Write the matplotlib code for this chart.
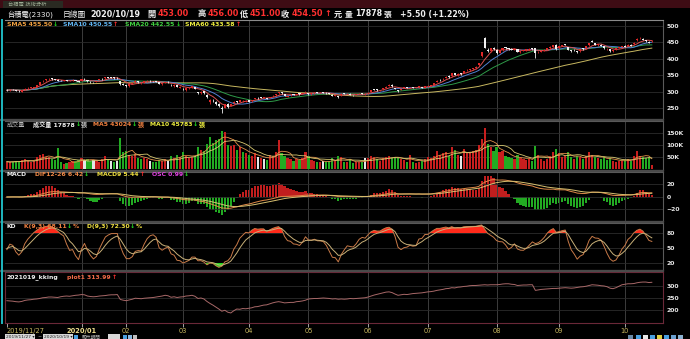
import numpy as np
import pandas as pd
import matplotlib
matplotlib.use("Agg")
import matplotlib.pyplot as plt
from matplotlib.patches import Rectangle
from matplotlib.lines import Line2D

FAM = ['DejaVu Sans', 'Noto Sans CJK TC']
plt.rcParams['font.family'] = FAM

# ---------------- data ----------------
open_ = ([306, 305, 307] +
         [306, 303, 301, 306, 311, 313, 312, 316, 322, 333, 336, 339, 341, 338, 337, 334, 334, 335, 333, 336, 336, 332] +
         [333, 340, 336, 331, 330, 331, 336, 340, 341, 345, 344, 344, 343, 333, 325] +
         [320, 318, 325, 329, 333, 327, 328, 333, 334, 333, 332, 329, 324, 328, 331, 322, 318, 320, 313] +
         [310, 306, 311, 313, 314, 300, 298, 302, 292, 270, 273, 270, 262, 252, 252, 264, 258, 266, 273, 270, 272, 271] +
         [276, 272, 280, 282, 284, 283, 281, 283, 287, 290, 296, 299, 294, 286, 290, 293, 292, 296, 294, 299] +
         [296, 293, 297, 300, 297, 299, 298, 296, 292, 289, 288, 290, 296, 294, 295, 291, 291, 294, 296, 294] +
         [296, 300, 308, 308, 305, 308, 312, 318, 322, 312, 305, 306, 313, 315, 314, 314, 312, 314, 314, 313] +
         [317, 319, 322, 330, 337, 338, 342, 348, 347, 357, 350, 356, 357, 365, 367, 369, 372, 382, 408, 463, 428, 424, 434] +
         [428, 419, 427, 435, 433, 431, 427, 429, 420, 425, 425, 428, 432, 432, 420, 421, 425, 427, 432, 437, 442] +
         [432, 440, 445, 436, 426, 428, 424, 424, 433, 432, 441, 455, 448, 442, 443, 438, 430, 429, 423, 428, 434, 437] +
         [440, 440, 443, 444, 456, 462, 461, 457, 452, 453])
high = ([308, 308, 309] +
        [307, 305, 306, 311, 314, 315, 316, 321, 331, 336, 339, 342, 342, 339, 338, 336, 336, 336, 335, 338, 337, 334] +
        [340, 341, 337, 332, 331, 334, 339, 341, 346, 346, 345, 345, 345, 334, 327] +
        [321, 324, 329, 335, 334, 329, 333, 335, 336, 334, 333, 330, 328, 331, 333, 323, 323, 321, 318] +
        [312, 313, 315, 318, 315, 301, 302, 303, 293, 279, 279, 272, 265, 256, 263, 265, 263, 272, 274, 277, 275, 276] +
        [277, 277, 282, 284, 285, 285, 282, 286, 290, 294, 300, 301, 295, 290, 293, 294, 295, 297, 298, 302] +
        [297, 297, 299, 301, 299, 300, 299, 297, 293, 292, 289, 296, 297, 296, 296, 292, 294, 296, 297, 296] +
        [299, 306, 309, 309, 307, 312, 317, 324, 323, 313, 306, 310, 315, 316, 316, 315, 314, 318, 315, 318] +
        [320, 322, 328, 335, 339, 342, 348, 350, 357, 358, 356, 358, 364, 368, 370, 374, 378, 389, 422, 466, 432, 434, 436] +
        [430, 427, 434, 437, 434, 432, 432, 430, 425, 427, 430, 432, 433, 433, 423, 426, 429, 433, 438, 443, 444] +
        [439, 443, 446, 437, 428, 430, 425, 432, 434, 440, 449, 456, 449, 446, 444, 439, 433, 430, 427, 433, 437, 440] +
        [441, 444, 444, 450, 462, 466, 462, 458, 453, 456])
low = ([303, 304, 305] +
       [303, 300, 300, 305, 309, 311, 311, 315, 321, 330, 334, 337, 337, 335, 332, 332, 333, 332, 332, 334, 332, 330] +
       [332, 337, 331, 327, 327, 330, 335, 337, 340, 341, 341, 340, 340, 322, 320] +
       [314, 316, 323, 327, 328, 325, 327, 331, 331, 330, 329, 324, 322, 326, 328, 318, 316, 314, 311] +
       [305, 304, 309, 312, 308, 293, 295, 295, 282, 262, 270, 261, 253, 235.5, 250, 252, 256, 264, 266, 268, 268, 270] +
       [270, 271, 278, 279, 281, 281, 278, 282, 286, 289, 295, 295, 287, 285, 288, 290, 291, 292, 293, 298] +
       [292, 292, 295, 296, 296, 297, 295, 293, 288, 287, 283, 289, 293, 293, 290, 288, 290, 293, 293, 292] +
       [295, 299, 305, 304, 304, 307, 311, 317, 316, 308, 300, 305, 311, 312, 312, 311, 311, 313, 312, 312] +
       [315, 318, 321, 329, 333, 336, 341, 343, 346, 350, 349, 352, 356, 362, 364, 367, 370, 380, 405, 432, 420, 422, 427] +
       [415, 417, 425, 430, 428, 426, 426, 420, 418, 423, 424, 427, 428, 402, 418, 420, 424, 426, 431, 436, 428] +
       [430, 438, 441, 427, 422, 424, 418, 422, 428, 431, 440, 450, 441, 440, 438, 431, 428, 421, 421, 427, 432, 435] +
       [435, 438, 439, 443, 455, 459, 456, 451, 447, 451])
close = ([305, 307, 306] +
         [304, 302, 305, 310, 312, 313, 315, 320, 330, 334, 338, 340, 339, 336, 334, 333, 335, 333, 334, 337, 333, 331] +
         [339, 339, 332, 329, 329, 333, 338, 339, 345, 343, 343, 342, 342, 323, 322] +
         [317, 323, 327, 334, 329, 327, 332, 333, 333, 332, 331, 325, 327, 330, 330, 320, 322, 315, 316] +
         [308, 312, 313, 317, 310, 296, 300, 297, 284, 277, 272, 264, 256, 248, 262, 255, 262, 270, 268, 275, 272, 274] +
         [271, 276, 281, 281, 283, 283, 280, 285, 289, 293, 299, 296, 288, 289, 292, 291, 294, 293, 297, 301] +
         [294, 296, 298, 297, 298, 298, 296, 294, 289, 291, 284, 295, 294, 295, 291, 290, 293, 295, 294, 294] +
         [298, 305, 307, 305, 306, 311, 316, 322, 318, 310, 302, 309, 314, 313, 315, 312, 313, 317, 313, 317] +
         [318, 321, 327, 334, 336, 340, 346, 345, 356, 352, 355, 355, 363, 366, 368, 372, 376, 388, 421, 433, 425, 432, 429] +
         [418, 426, 433, 432, 430, 428, 431, 421, 424, 426, 429, 431, 430, 418, 422, 425, 428, 432, 437, 441, 430] +
         [438, 441, 443, 428, 425, 427, 420, 431, 430, 439, 448, 452, 442, 444, 440, 432, 431, 423, 426, 432, 436.5, 439] +
         [437, 442, 440, 449, 460, 463, 458, 453, 449, 454.5])
volume = ([30500, 28200, 31000] +
          [33000, 30000, 38000, 42000, 35000, 30000, 34000, 51000, 58000, 62000, 48000, 52000, 40000, 38000, 87000, 30000, 22000, 25000, 28000, 35000, 32000, 36000] +
          [45000, 38000, 40000, 35000, 37000, 35000, 30000, 40000, 55000, 38000, 35000, 30000, 35000, 129000, 70000] +
          [75000, 60000, 55000, 62000, 45000, 40000, 45000, 40000, 35000, 30000, 30000, 38000, 35000, 40000, 32000, 55000, 45000, 58000, 50000] +
          [70000, 55000, 45000, 50000, 55000, 90000, 80000, 75000, 105000, 133000, 110000, 120000, 125000, 158000, 154000, 100000, 95000, 100000, 80000, 90000, 70000, 65000] +
          [60000, 55000, 65000, 50000, 45000, 40000, 38000, 60000, 55000, 70000, 120000, 65000, 55000, 45000, 40000, 35000, 40000, 38000, 45000, 70000] +
          [55000, 38000, 35000, 30000, 28000, 32000, 30000, 35000, 45000, 35000, 55000, 50000, 30000, 28000, 40000, 25000, 28000, 30000, 30000, 45000] +
          [45000, 55000, 50000, 40000, 35000, 45000, 50000, 55000, 45000, 50000, 45000, 40000, 38000, 30000, 60000, 28000, 25000, 30000, 32000, 40000] +
          [50000, 45000, 55000, 75000, 60000, 65000, 70000, 55000, 90000, 80000, 60000, 55000, 85000, 65000, 70000, 75000, 80000, 100000, 125000, 172000, 105000, 90000, 75000] +
          [90000, 70000, 75000, 55000, 50000, 45000, 40000, 60000, 45000, 40000, 38000, 40000, 35000, 95000, 60000, 40000, 35000, 40000, 55000, 70000, 85000] +
          [65000, 50000, 55000, 70000, 50000, 40000, 55000, 50000, 40000, 55000, 70000, 60000, 50000, 45000, 40000, 50000, 38000, 45000, 35000, 30000, 35000, 32000] +
          [38000, 42000, 33000, 55000, 74710, 55200, 48100, 45800, 48142, 17878])
plot1 = ([239, 238, 237] +
         [235, 234, 236, 240, 242, 243, 245, 246, 248, 251, 252, 254, 254, 253, 252, 255, 257, 258, 257, 259, 261, 262] +
         [264, 263, 258, 256, 255, 256, 258, 259, 260, 262, 263, 263, 264, 244, 241] +
         [239, 242, 245, 249, 248, 247, 249, 250, 251, 252, 254, 256, 258, 261, 259, 253, 255, 252, 254] +
         [255, 258, 259, 261, 257, 248, 250, 246, 236, 228, 221, 213, 205, 196, 200, 192, 189, 198, 205, 204, 207, 206] +
         [208, 210, 214, 215, 218, 221, 222, 226, 230, 233, 235, 233, 230, 231, 232, 232, 235, 236, 238, 241] +
         [246, 247, 248, 248, 249, 250, 249, 248, 246, 247, 245, 246, 245, 246, 248, 247, 248, 249, 250, 251] +
         [254, 258, 262, 265, 268, 271, 274, 275, 272, 266, 261, 263, 265, 264, 266, 268, 269, 270, 271, 273] +
         [275, 276, 278, 281, 283, 285, 288, 289, 292, 291, 294, 295, 297, 298, 300, 301, 301, 302, 303, 304, 303, 304, 304] +
         [304, 305, 307, 308, 308, 306, 305, 301, 302, 303, 303, 304, 304, 281, 283, 285, 286, 287, 288, 289, 289] +
         [290, 291, 292, 291, 290, 291, 293, 295, 296, 298, 301, 304, 303, 302, 300, 299, 296, 290, 288, 292, 298, 304] +
         [306, 308, 308, 309, 312, 314, 315, 315, 313, 313.99])

holidays = ['2020-01-01', '2020-01-21', '2020-01-22', '2020-01-23', '2020-01-24', '2020-01-27',
            '2020-01-28', '2020-01-29', '2020-02-28', '2020-04-02', '2020-04-03', '2020-05-01',
            '2020-06-25', '2020-06-26', '2020-10-01', '2020-10-02', '2020-10-09']
month_labels = ['2019/11/27', '2020/01', '02', '03', '04', '05', '06', '07', '08', '09', '10']

price_ticks = [250, 300, 350, 400, 450, 500]
vol_ticks = [50000, 100000, 150000]
vol_tick_labels = ['50K', '100K', '150K']
macd_ticks = [-20, 0, 20]
kd_ticks = [20, 50, 80]
p1_ticks = [200, 250, 300]

# ---------------- derived series ----------------
dates = pd.bdate_range('2019-11-27', '2020-10-19', freq='C', holidays=holidays)
n = len(dates)
for arr in (open_, high, low, close, volume, plot1):
    assert len(arr) == n, (len(arr), n)
O = np.array(open_, float); Hh = np.array(high, float); Ll = np.array(low, float)
C = np.array(close, float); V = np.array(volume, float); P1 = np.array(plot1, float)
x = np.arange(n)
cs = pd.Series(C)
sma = {k: cs.rolling(k, min_periods=1).mean().values for k in (5, 10, 20, 60)}
vs = pd.Series(V)
vma5 = vs.rolling(5, min_periods=1).mean().values
vma10 = vs.rolling(10, min_periods=1).mean().values
ema12 = cs.ewm(span=12, adjust=False).mean()
ema26 = cs.ewm(span=26, adjust=False).mean()
dif = (ema12 - ema26).values
dea = pd.Series(dif).ewm(span=9, adjust=False).mean().values
osc = dif - dea
h9 = pd.Series(Hh).rolling(9, min_periods=1).max().values
l9 = pd.Series(Ll).rolling(9, min_periods=1).min().values
rsv = np.where(h9 > l9, (C - l9) / np.maximum(h9 - l9, 1e-9) * 100, 50)
K = np.zeros(n); D = np.zeros(n)
kp, dp = 50.0, 50.0
for i in range(n):
    kp = kp * 2 / 3 + rsv[i] / 3
    dp = dp * 2 / 3 + kp / 3
    K[i], D[i] = kp, dp

month_idx = [i for i in range(1, n) if dates[i].month != dates[i - 1].month and dates[i].year == 2020]
tick_idx = [0] + month_idx

# ---------------- figure ----------------
W, Hpx = 690, 339
fig = plt.figure(figsize=(6.9, 3.39), dpi=100, facecolor='black')
XL, XR = 5, 663
XMIN, XMAX = -0.62, 219.74

def fx(px):
    return px / W

def fy(py):
    return 1 - py / Hpx

def style_right(ax, ticks, labels=None):
    ax.yaxis.tick_right()
    ax.set_yticks(ticks)
    if labels is not None:
        ax.set_yticklabels(labels)
    ax.tick_params(axis='y', which='both', left=False, labelleft=False, right=False,
                   labelright=True, length=0, pad=2.5, labelsize=4.4, labelcolor='#e6e6e6')
    for t in ax.get_yticklabels():
        t.set_fontweight('bold')

def add_ax(y0, y1, ticks, labels=None, frame='#5a5a5a'):
    ax = fig.add_axes([fx(XL), fy(y1), (XR - XL) / W, (y1 - y0) / Hpx])
    ax.set_facecolor('black')
    ax.set_xlim(XMIN, XMAX)
    for k, s in ax.spines.items():
        s.set_color(frame)
        s.set_linewidth(0.8)
    ax.spines['left'].set_visible(False)
    style_right(ax, ticks, labels)
    ax.tick_params(axis='x', length=0, labelbottom=False)
    for m in month_idx:
        ax.axvline(m, color='#3c3c3c', lw=0.7, zorder=0)
    for t in ticks:
        ax.axhline(t, color='#2c2c2c', lw=0.6, zorder=0)
    return ax

# top strip and tab
fig.add_artist(Rectangle((0, fy(8)), 1, 8 / Hpx, transform=fig.transFigure, color='#3e0c14', lw=0))
fig.add_artist(Rectangle((fx(3), fy(8)), 60 / W, 7 / Hpx, transform=fig.transFigure, color='#2a2a22', lw=0))
fig.text(fx(8), fy(4.2), '台積電 技術分析', fontsize=3.8, color='#9aa890', va='center', ha='left')

# price panel
ax1 = add_ax(20, 119, price_ticks)
ax1.set_ylim(218, 518)
ax1.spines['top'].set_color('#8a8a8a')
up = C >= O
ccol = np.where(up, '#e02828', '#f0f0f0')
ax1.vlines(x, Ll, Hh, colors=ccol, lw=0.6, zorder=3)
ax1.bar(x, np.maximum(np.abs(C - O), 0.9), bottom=np.minimum(O, C), width=0.7,
        color=ccol, lw=0, zorder=4)
ax1.plot(x, sma[60], color='#c8b860', lw=0.7, zorder=2)
ax1.plot(x, sma[20], color='#2e9a48', lw=0.7, zorder=2)
ax1.plot(x, sma[10], color='#5080d0', lw=0.7, zorder=2)
ax1.plot(x, sma[5], color='#d85050', lw=0.7, zorder=2)

# volume panel
ax2 = add_ax(121, 170, vol_ticks, vol_tick_labels)
ax2.set_ylim(-4170, 200000)
prev = np.concatenate([[C[0] - 1], C[:-1]])
vcol = np.where(C > prev, '#c81e1e', np.where(C < prev, '#22aa22', '#e6e6e6'))
ax2.bar(x, V, width=0.72, color=vcol, lw=0, zorder=2)
ax2.plot(x, vma5, color='#e0904a', lw=0.6, zorder=3)
ax2.plot(x, vma10, color='#d8c870', lw=0.6, zorder=3)

# MACD panel (oscillator bars on their own scale)
ax3 = add_ax(172, 221, macd_ticks)
ax3.set_ylim(-38.4, 40)
ax3h = ax3.twinx()
ax3h.set_ylim(-38.4 / 5.0, 40 / 5.0)
ax3h.axis('off')
ax3h.bar(x, osc, width=0.72, color=np.where(osc >= 0, '#c01e1e', '#22aa22'), lw=0, zorder=1)
style_right(ax3, macd_ticks)
ax3.set_zorder(ax3h.get_zorder() + 1)
ax3.patch.set_visible(False)
ax3.plot(x, dif, color='#e08a48', lw=0.7)
ax3.plot(x, dea, color='#d8c070', lw=0.7)

# KD panel
ax4 = add_ax(223, 270, kd_ticks)
ax4.set_ylim(6, 100)
ax4.fill_between(x, K, 80, where=K > 80, interpolate=True, color='#ff2a1a', lw=0, zorder=2)
ax4.fill_between(x, K, 20, where=K < 20, interpolate=True, color='#20dd20', lw=0, zorder=2)
ax4.plot(x, K, color='#c87a48', lw=0.7, zorder=3)
ax4.plot(x, D, color='#c8b078', lw=0.7, zorder=3)

# plot1 panel
ax5 = add_ax(272, 323, p1_ticks, frame='#6a2838')
ax5.spines['left'].set_visible(True)
ax5.set_ylim(148, 356)
ax5.plot(x, P1, color='#a86868', lw=0.7)
ax5.set_xticks(tick_idx)
ax5.set_xticklabels(month_labels)
ax5.tick_params(axis='x', length=3, width=0.6, color='#c0c0c0', direction='out',
                labelbottom=True, labelsize=4.8, labelcolor='#c8b860', pad=0.8)
xl = ax5.get_xticklabels()
xl[0].set_ha('left')
xl[1].set_fontweight('bold')
xl[1].set_color('#f0e090')

# panel separators
for yy in (120, 171, 222, 271):
    fig.add_artist(Line2D([fx(0), fx(XR)], [fy(yy), fy(yy)], transform=fig.transFigure,
                          color='#4a4a4a', lw=1.6))
# cyan left bar
fig.add_artist(Line2D([fx(2), fx(2)], [fy(20), fy(323)], transform=fig.transFigure,
                      color='#1fb8c0', lw=1.4))

renderer = fig.canvas.get_renderer()

def seq(xp, yp, pieces, size=4.4, weight='bold', gap=1.0):
    for s, c in pieces:
        t = fig.text(fx(xp), fy(yp), s, color=c, fontsize=size, fontweight=weight,
                     va='center', ha='left')
        xp += t.get_window_extent(renderer).width + gap
    return xp

RED = '#ff3030'; GRN = '#22e022'; WHT = '#f0f0f0'
# header line
seq(7, 14, [('台積電(2330)', WHT)], size=5.2, weight='normal')
seq(63, 14, [('日線圖', WHT)], size=5.6, weight='normal')
seq(90, 14, [('2020/10/19', WHT)], size=5.8)
seq(147, 14, [('開', WHT), ('453.00', RED)], size=5.9, gap=2.0)
seq(198, 14, [('高', WHT), ('456.00', RED)], size=5.9, gap=2.0)
seq(240, 14, [('低', WHT), ('451.00', RED)], size=5.9, gap=2.0)
seq(281, 14, [('收', WHT), ('454.50', RED), ('↑', RED), ('元', WHT)], size=5.9, gap=2.0)
seq(345, 14, [('量', WHT), ('17878', WHT), ('張', WHT)], size=5.6, gap=2.0)
seq(400, 14, [('+5.50 (+1.22%)', WHT)], size=5.6)

# panel legends
seq(7, 24, [('SMA5 455.50', '#f0a040'), ('↓', GRN)])
seq(63, 24, [('SMA10 450.55', '#60b4f0'), ('↑', RED)])
seq(125, 24, [('SMA20 442.55', '#40d040'), ('↓', GRN)])
seq(185, 24, [('SMA60 433.58', '#f0f040'), ('↑', RED)])

seq(7, 124.5, [('成交量', '#b8b8b8')], weight='normal')
seq(33, 124.5, [('成交量 17878', WHT), ('↓', GRN), ('張', '#c0c0c0')], gap=0.6)
seq(93, 124.5, [('MA5 43024', '#f08040'), ('↓', GRN), ('張', '#f08040')], gap=0.6)
seq(150, 124.5, [('MA10 45783', '#f0f040'), ('↓', GRN), ('張', '#f0f040')], gap=0.6)

seq(7, 174.5, [('MACD', WHT)])
seq(35, 174.5, [('DIF12-26 6.42', '#f08a48'), ('↓', GRN)])
seq(97, 174.5, [('MACD9 5.44', '#f0e040'), ('↑', RED)])
seq(152, 174.5, [('OSC 0.99', '#e040e0'), ('↓', GRN)])

seq(7, 226.5, [('KD', WHT)])
seq(24, 226.5, [('K(9,3) 68.11', '#f08040'), ('↓', GRN), ('%', '#f08040')], gap=0.6)
seq(87, 226.5, [('D(9,3) 72.30', '#f0e040'), ('↓', GRN), ('%', '#f0e040')], gap=0.6)

seq(7, 277.5, [('2021019_kking', WHT)])
seq(67, 277.5, [('plot1 313.99', '#f06a48'), ('↑', RED)])

# bottom toolbar
for (bx, bw) in ((5, 30), (43, 30), (108, 12)):
    fig.add_artist(Rectangle((fx(bx), fy(339)), bw / W, 5 / Hpx, transform=fig.transFigure,
                             color='#d8d8d8', lw=0))
fig.text(fx(6), fy(337), '2019/11/27 ▾', fontsize=3.2, color='#202020', va='center')
fig.text(fx(44), fy(337), '2020/10/19 ▾', fontsize=3.2, color='#202020', va='center')
fig.text(fx(37), fy(337), '~', fontsize=3.5, color='#c0c0c0', va='center')
fig.text(fx(82), fy(337), '顯示期間', fontsize=3.4, color='#b0b0b0', va='center')
for bx, col in ((74, '#4aa0e0'), (123, '#4aa0e0'), (128, '#8ab8e0'), (133, '#c0c0c0')):
    fig.add_artist(Rectangle((fx(bx), fy(339)), 4 / W, 4.5 / Hpx, transform=fig.transFigure,
                             color=col, lw=0))
for bx, col in ((628, '#6a8aa8'), (636, '#4aa0e0'), (643, '#e8e8e8'), (650, '#4aa0e0'),
                (657, '#e0d040'), (664, '#4aa0e0'), (671, '#6aa0d0'), (678, '#8ab0d0')):
    fig.add_artist(Rectangle((fx(bx), fy(339)), 5 / W, 4.5 / Hpx, transform=fig.transFigure,
                             color=col, lw=0))

fig.savefig('out.png', dpi=100, facecolor='black')
